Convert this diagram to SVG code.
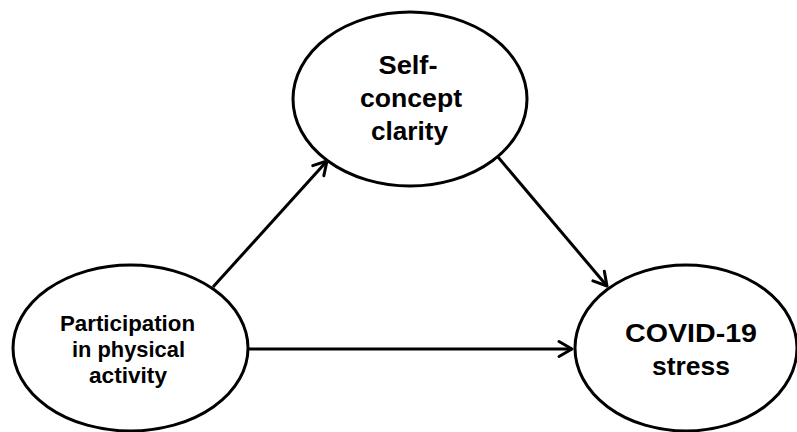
<svg xmlns="http://www.w3.org/2000/svg" width="797" height="432" viewBox="0 0 797 432">
<defs>
<style>
.node ellipse{fill:#fff;stroke:#000;stroke-width:3}
.node text{font-family:"Liberation Sans",Arial,sans-serif;font-weight:bold;fill:#000;text-anchor:middle}
.conn line{stroke:#000;stroke-width:3}
</style>
<marker id="arr" markerUnits="userSpaceOnUse" viewBox="-16 -10 20 20" refX="0" refY="0" markerWidth="20" markerHeight="20" orient="auto">
<path d="M-13,-7.5 L0,0 L-13,7.5" fill="none" stroke="#000" stroke-width="3" stroke-linecap="round" stroke-linejoin="round"/>
</marker>
</defs>
<rect width="797" height="432" fill="#fff"/>
<g id="connectors" class="conn">
<line x1="213" y1="287" x2="327" y2="161" marker-end="url(#arr)"/>
<line x1="498" y1="157" x2="607" y2="286" marker-end="url(#arr)"/>
<line x1="248" y1="349" x2="572" y2="349" marker-end="url(#arr)"/>
</g>
<g id="node-self-concept" class="node">
<ellipse cx="410" cy="99" rx="117" ry="87"/>
<text x="408" y="74" font-size="26" textLength="59" lengthAdjust="spacingAndGlyphs">Self-</text>
<text x="411" y="107" font-size="26" textLength="102" lengthAdjust="spacingAndGlyphs">concept</text>
<text x="409.5" y="140" font-size="26" textLength="77" lengthAdjust="spacingAndGlyphs">clarity</text>
</g>
<g id="node-participation" class="node">
<ellipse cx="130.5" cy="348" rx="117.5" ry="83"/>
<text x="127.5" y="331" font-size="21.5" textLength="135" lengthAdjust="spacingAndGlyphs">Participation</text>
<text x="128.5" y="357" font-size="21.5" textLength="113" lengthAdjust="spacingAndGlyphs">in physical</text>
<text x="128" y="383" font-size="21.5" textLength="78" lengthAdjust="spacingAndGlyphs">activity</text>
</g>
<g id="node-covid" class="node">
<ellipse cx="686" cy="348" rx="111" ry="83"/>
<text x="691" y="342" font-size="25" textLength="132" lengthAdjust="spacingAndGlyphs">COVID-19</text>
<text x="691" y="375" font-size="25" textLength="78" lengthAdjust="spacingAndGlyphs">stress</text>
</g>
</svg>
